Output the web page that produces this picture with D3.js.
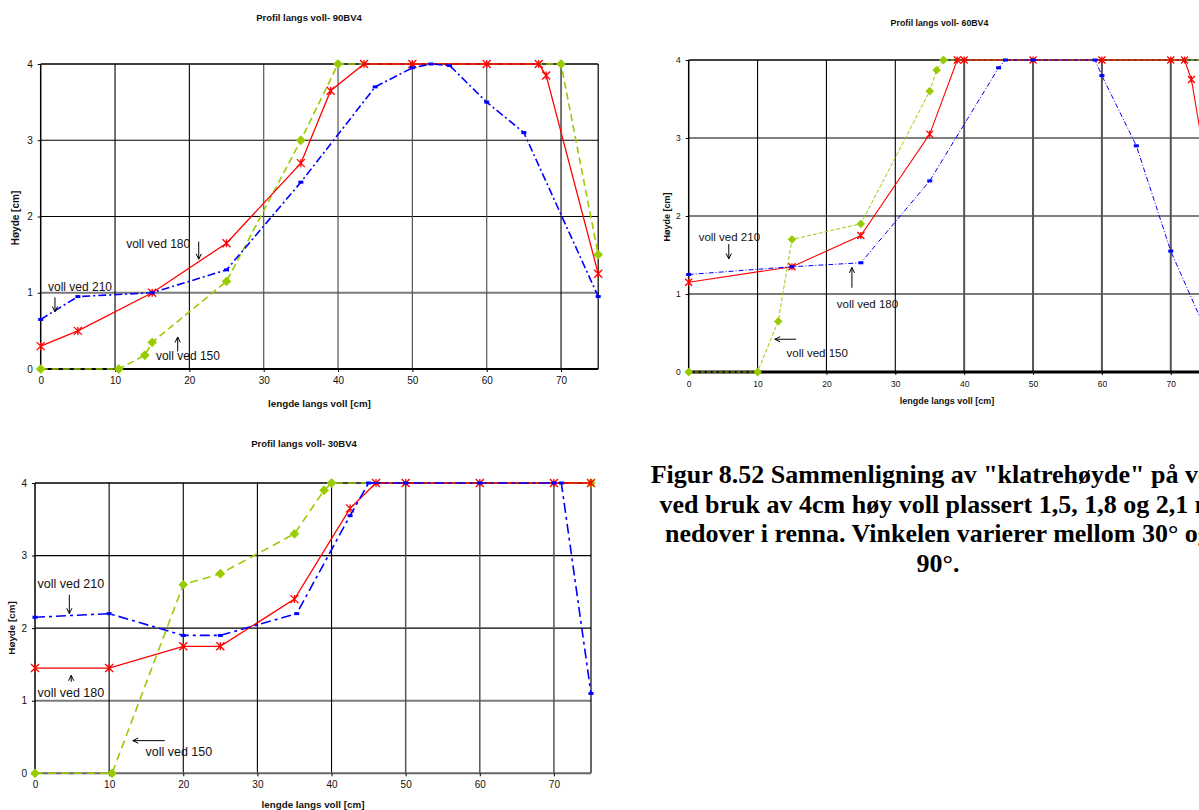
<!DOCTYPE html>
<html><head><meta charset="utf-8">
<script src="https://cdn.jsdelivr.net/npm/d3@7"></script>
<style>
html,body{margin:0;padding:0;background:#fff;overflow:hidden}
text{font-family:"Liberation Sans",Arial,sans-serif}
text.caption{font-family:"Liberation Serif","Times New Roman",serif}
</style></head>
<body><svg id="c" width="1199" height="810"></svg>
<script>
// ---------- data ----------
const xTicks = [0,10,20,30,40,50,60,70];
const yTicks = [0,1,2,3,4];
const seriesNames = ["voll ved 150","voll ved 180","voll ved 210"];
const titles = ["Profil langs voll- 90BV4","Profil langs voll- 60BV4","Profil langs voll- 30BV4"];
const xLabel = "lengde langs voll [cm]";
const yLabel = "Høyde [cm]";

// 90BV4
const x90_150 = [0,10.5,14,15,25,35,40,70,75];
const y90_150 = [0,0,0.18,0.35,1.15,3,4,4,1.5];
const x90_180 = [0,5,15,25,35,39,43.5,50,60,67,68,75];
const y90_180 = [0.3,0.5,1,1.65,2.7,3.65,4,4,4,4,3.85,1.25];
const x90_210 = [0,5,15,25,35,45,50,52.5,55,60,65,75];
const y90_210 = [0.65,0.95,1,1.3,2.45,3.7,3.95,4,3.98,3.5,3.1,0.95];

// 60BV4
const x60_150 = [0,10,13,15,25,35,36,37,75];
const y60_150 = [0,0,0.65,1.7,1.9,3.6,3.87,4,4];
const x60_180 = [0,15,25,35,39,40,50,60,70,72,73,75];
const y60_180 = [1.15,1.35,1.75,3.05,4,4,4,4,4,4,3.75,2.7];
const x60_210 = [0,15,25,35,45,46,50,59,60,65,70,75];
const y60_210 = [1.25,1.35,1.4,2.45,3.9,4,4,4,3.8,2.9,1.55,0.55];

// 30BV4
const x30_150 = [0,10.4,20,25,35,39,40,75];
const y30_150 = [0,0,2.6,2.75,3.3,3.9,4,4];
const x30_180 = [0,10,20,25,35,42.5,46,50,60,70,75];
const y30_180 = [1.45,1.45,1.75,1.75,2.4,3.65,4,4,4,4,4];
const x30_210 = [0,10,20,25,35.3,42.5,45,50,60,70,71,75];
const y30_210 = [2.15,2.2,1.9,1.9,2.2,3.55,4,4,4,4,4,1.1];

// annotation anchors (data units): [textX, textY, arrowX1, arrowY1, arrowX2, arrowY2]
const ann90 = [[15.5,0.18,18.43,0.23,18.43,0.42],[11.5,1.65,21.26,1.67,21.26,1.44],[0.98,1.075,1.92,0.94,1.92,0.75]];
const ann60 = [[14.2,0.24,15.6,0.42,12.5,0.42],[21.5,0.87,23.7,1.08,23.7,1.34],[1.45,1.73,5.82,1.64,5.82,1.45]];
const ann30 = [[14.9,0.3,17.5,0.45,13.2,0.45],[0.34,1.12,4.88,1.26,4.88,1.35],[0.34,2.61,4.63,2.46,4.63,2.2]];

const captionLines = ['Figur 8.52 Sammenligning av "klatrehøyde" på voll',
  'ved bruk av 4cm høy voll plassert 1,5, 1,8 og 2,1 m',
  'nedover i renna. Vinkelen varierer mellom 30° og',
  '90°.'];

// ---------- drawing ----------
const svg = d3.select("#c");
svg.append("rect").attr("width",1199).attr("height",810).attr("fill","#fff");

const COL = {g:"#99cc00", r:"#ff0000", b:"#0000ff"};

function drawChart(o){
  const x = d3.scaleLinear().domain([0,75]).range([o.x0,o.x75]);
  const y = d3.scaleLinear().domain([0,4]).range([o.y0,o.y4]);
  const g = svg.append("g");

  // grid
  yTicks.filter(v=>v>0&&v<4).forEach(v=>{
    g.append("line").attr("x1",x(0)).attr("x2",x(75)).attr("y1",y(v)).attr("y2",y(v))
      .attr("stroke", v===1? "#7a7a7a":"#000").attr("stroke-width", v===1?2:1.1);
  });
  xTicks.filter(v=>v>0).forEach(v=>{
    const gray = o.grayV.includes(v);
    g.append("line").attr("x1",x(v)).attr("x2",x(v)).attr("y1",y(0)).attr("y2",y(4))
      .attr("stroke", gray? "#555":"#000").attr("stroke-width", gray? o.grayW:1.1);
  });
  // frame
  g.append("line").attr("x1",x(0)).attr("x2",x(75)).attr("y1",y(4)).attr("y2",y(4)).attr("stroke","#000").attr("stroke-width",1.5);
  g.append("line").attr("x1",x(75)).attr("x2",x(75)).attr("y1",y(0)).attr("y2",y(4)).attr("stroke","#000").attr("stroke-width",1.2);
  g.append("line").attr("x1",x(0)).attr("x2",x(0)).attr("y1",y(0)).attr("y2",y(4)).attr("stroke","#000").attr("stroke-width",1.5);
  g.append("line").attr("x1",x(0)).attr("x2",x(75)).attr("y1",y(0)).attr("y2",y(0)).attr("stroke",o.bottomCol).attr("stroke-width",o.bottomW);

  // axes
  const ax = g.append("g").attr("transform",`translate(0,${y(0)})`)
    .call(d3.axisBottom(x).tickValues(xTicks).tickSize(3).tickFormat(d3.format("d")));
  const ay = g.append("g").attr("transform",`translate(${x(0)},0)`)
    .call(d3.axisLeft(y).tickValues(yTicks).tickSize(3).tickFormat(d3.format("d")));
  [ax,ay].forEach(a=>{
    a.select(".domain").remove();
    a.selectAll("line").attr("stroke","#000");
    a.selectAll("text").attr("font-size",o.tickFs).attr("fill","#111");
  });
  ax.selectAll("text").attr("dy",o.xTickDy);
  ay.selectAll("text").attr("dx",-2);

  // titles & labels
  g.append("text").attr("x",o.titleX).attr("y",o.titleY).attr("text-anchor","middle")
    .attr("font-size",o.titleFs).attr("font-weight","bold").attr("fill","#111").text(o.title);
  g.append("text").attr("x",(x(0)+x(75))/2 + o.xlabOff).attr("y",o.xlabY).attr("text-anchor","middle")
    .attr("font-size",o.labFs).attr("font-weight","bold").attr("fill","#111").text(xLabel);
  g.append("text").attr("transform",`translate(${o.ylabX},${o.ylabY}) rotate(-90)`).attr("text-anchor","middle")
    .attr("font-size",o.ylabFs).attr("font-weight","bold").attr("fill","#111").text(yLabel);

  // series
  const specs = [
    {xs:o.d[0][0], ys:o.d[0][1], c:COL.g, dash:o.gDash, w:o.gW, m:"dia"},
    {xs:o.d[1][0], ys:o.d[1][1], c:COL.r, dash:null, w:o.rW, m:"ast"},
    {xs:o.d[2][0], ys:o.d[2][1], c:COL.b, dash:o.bDash, w:o.bW, m:"sq"}
  ];
  const line = d3.line().x(d=>x(d[0])).y(d=>y(d[1]));
  specs.forEach(s=>{
    const pts = s.xs.map((v,i)=>[v,s.ys[i]]);
    g.append("path").attr("d",line(pts)).attr("fill","none").attr("stroke",s.c)
      .attr("stroke-width",s.w).attr("stroke-dasharray",s.dash);
    pts.forEach(p=>{
      const cx=x(p[0]), cy=y(p[1]);
      if(s.m==="dia"){
        const r=o.mSize;
        g.append("path").attr("d",`M${cx},${cy-r}L${cx+r},${cy}L${cx},${cy+r}L${cx-r},${cy}Z`)
          .attr("fill",s.c).attr("stroke",s.c).attr("stroke-width",1.2).attr("stroke-linejoin","round");
      } else if(s.m==="ast"){
        const r=o.mSize;
        g.append("path").attr("d",`M${cx-r},${cy-r}L${cx+r},${cy+r}M${cx-r},${cy+r}L${cx+r},${cy-r}M${cx},${cy-r}L${cx},${cy+r}`)
          .attr("stroke",s.c).attr("stroke-width",1.3).attr("fill","none");
      } else {
        g.append("rect").attr("x",cx-2.5).attr("y",cy-1.5).attr("width",5).attr("height",3).attr("fill",s.c);
      }
    });
  });

  // annotations
  o.ann.forEach((a,i)=>{
    g.append("text").attr("x",x(a[0])).attr("y",y(a[1])+o.annFs*0.36).attr("font-size",o.annFs)
      .attr("fill","#111").text(seriesNames[i]);
    const x1=x(a[2]),y1=y(a[3]),x2=x(a[4]),y2=y(a[5]);
    const ang=Math.atan2(y2-y1,x2-x1), h=6, sp=0.45;
    g.append("path").attr("d",`M${x1},${y1}L${x2},${y2}M${x2-h*Math.cos(ang-sp)},${y2-h*Math.sin(ang-sp)}L${x2},${y2}L${x2-h*Math.cos(ang+sp)},${y2-h*Math.sin(ang+sp)}`)
      .attr("stroke","#000").attr("stroke-width",1).attr("fill","none");
  });
}

drawChart({x0:40.7,x75:598.2,y0:369,y4:64,title:titles[0],titleX:309,titleY:21,titleFs:9.5,
  xlabY:407,xlabOff:0,labFs:9.8,ylabX:19,ylabY:218,ylabFs:10,tickFs:10,xTickDy:"0.9em",
  grayV:[30,40,50,60],grayW:1.2,bottomCol:"#000",bottomW:2,
  gDash:"7,4",gW:1.6,rW:1.3,bDash:"8,3,2,3",bW:1.6,mSize:4,annFs:12,
  d:[[x90_150,y90_150],[x90_180,y90_180],[x90_210,y90_210]],ann:ann90});

drawChart({x0:688.7,x75:1205.2,y0:372,y4:60,title:titles[1],titleX:939.5,titleY:26,titleFs:8.8,
  xlabY:404,xlabOff:0,labFs:9,ylabX:670,ylabY:217,ylabFs:9,tickFs:8.5,xTickDy:"1em",
  grayV:[40,50,60,70],grayW:2,bottomCol:"#000",bottomW:3,
  gDash:"4,2",gW:1,rW:1.1,bDash:"5,2,1,2",bW:1,mSize:3.5,annFs:11.5,
  d:[[x60_150,y60_150],[x60_180,y60_180],[x60_210,y60_210]],ann:ann60});

drawChart({x0:35,x75:591,y0:773.3,y4:483,title:titles[2],titleX:304,titleY:446.5,titleFs:9.5,
  xlabY:808,xlabOff:0,labFs:9.8,ylabX:15,ylabY:628,ylabFs:9.8,tickFs:10,xTickDy:"0.9em",
  grayV:[50,60,70],grayW:1.5,bottomCol:"#666",bottomW:2,
  gDash:"8,5",gW:1.6,rW:1.3,bDash:"10,4,3,4",bW:1.6,mSize:4,annFs:12.5,
  d:[[x30_150,y30_150],[x30_180,y30_180],[x30_210,y30_210]],ann:ann30});

// caption
const cap = svg.append("text").attr("class","caption").attr("text-anchor","middle")
  .style("font-family","'Liberation Serif','Times New Roman',serif").attr("font-weight","bold")
  .attr("font-size",26).attr("fill","#000");
captionLines.forEach((t,i)=>{
  cap.append("tspan").attr("x",938).attr("y",483+i*29.6).text(t);
});
</script></body></html>
